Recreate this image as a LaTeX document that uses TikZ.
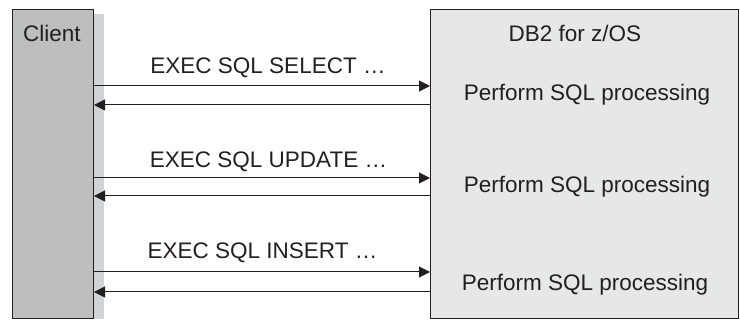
\documentclass[tikz,border=0pt]{standalone}
\usepackage{fontspec}
\setmainfont{Liberation Sans}
\usetikzlibrary{arrows.meta, positioning, calc}
\definecolor{ink}{HTML}{231F20}
\definecolor{clientA}{HTML}{BCBEC0}
\definecolor{serverA}{HTML}{E6E7E8}
\definecolor{shadowA}{HTML}{D1D3D4}
\tikzset{
  lbl/.style={font=\fontsize{22.5}{25}\selectfont, text=ink, inner sep=0pt},
  panel/.style={draw=ink, line width=1pt, inner sep=0pt, anchor=north west},
  clientbox/.style={panel, fill=clientA, minimum width=81pt, minimum height=308.5pt},
  serverbox/.style={panel, fill=serverA, minimum width=308pt, minimum height=308.5pt},
  msg/.style={draw=ink, line width=1pt, -{Triangle[length=11pt, width=11pt]}}
}

\begin{document}
\begin{tikzpicture}[x=1pt,y=1pt]
\useasboundingbox (0,0) rectangle (740,320);

% the two sides
\node[clientbox] (client) at (12,310.5) {};
\node[serverbox] (db2) at (430,310.5) {};
\fill[shadowA] (client.south east) rectangle ($(client.north east)+(10,-5)$);

\node[lbl, anchor=west] (clientlbl) at (23,287) {Client};
\node[lbl] (db2lbl) at (575,287) {DB2 for z/OS};

% work done by DB2
\node[lbl] (p1) at (587,225) {Perform SQL processing};
\node[lbl] (p2) at (587,133) {Perform SQL processing};
\node[lbl] (p3) at (585,35) {Perform SQL processing};

% statements sent by the client
\node[lbl] (sel) at (268,252) {EXEC SQL SELECT \dots};
\node[lbl] (upd) at (268.5,158) {EXEC SQL UPDATE \dots};
\node[lbl] (ins) at (262.5,67) {EXEC SQL INSERT \dots};

% requests and replies
\foreach \y in {234,142,48}
  \draw[msg] (client.east |- 0,\y) -- (db2.west |- 0,\y);
\foreach \y in {215,124,28}
  \draw[msg] (db2.west |- 0,\y) -- (client.east |- 0,\y);

\end{tikzpicture}
\end{document}
